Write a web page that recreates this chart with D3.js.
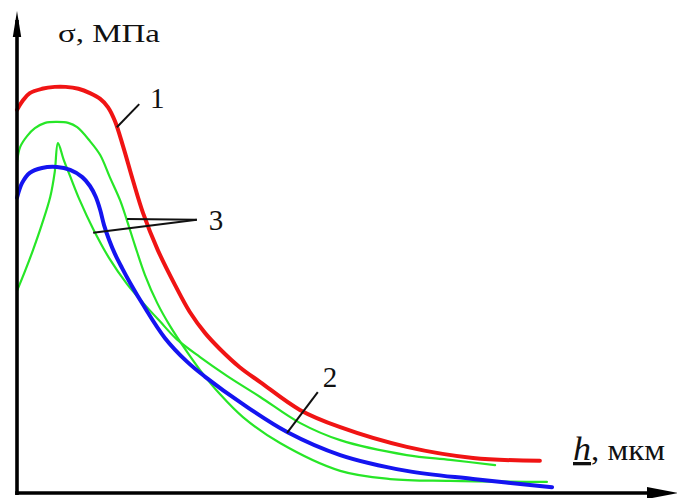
<!DOCTYPE html>
<html>
<head>
<meta charset="utf-8">
<script src="https://cdn.jsdelivr.net/npm/d3@7"></script>
<style>
  html, body { margin: 0; padding: 0; background: #fff; }
  svg { display: block; }
  text { font-family: "Liberation Serif", "Times New Roman", serif; fill: #111; }
</style>
</head>
<body>
<svg id="chart" width="677" height="498"></svg>
<script>
// ---- data (h, μm  vs  σ, MPa – relative units) ----
const hRed  = [0,1.0,2.0,3.9,5.9,7.6,9.6,11.4,13.0,14.2,15.3,16.6,18.1,19.7,22.0,24.7,27.0,29.4,31.7,34.8,38.0,44.2,50.5,60.9,71.25,81.7];
const sRed  = [79.6,81.7,83.1,84.0,84.4,84.4,84.0,83.1,81.9,80.2,77.3,71.9,65.0,58.1,50.4,43.1,37.5,33.1,29.8,26.0,22.9,17.1,13.5,9.4,7.1,6.5];

const hBlue = [0,0.8,2.0,3.9,6.25,8.3,10.2,11.4,12.3,13.0,13.6,14.4,15.3,16.4,17.7,19.7,23.1,26.6,29.4,35.3,42.2,50.5,60.9,71.25,83.6];
const sBlue = [61.3,64.4,66.5,67.5,67.7,67.1,65.6,63.75,61.5,58.75,55.6,52.5,49.6,46.7,43.5,39.0,32.1,27.1,24.0,18.3,12.5,7.7,4.4,2.7,1.0];

const hGreenA = [0,0.5,1.6,2.8,4.4,6.25,8.0,9.4,11.4,13.0,14.5,16.1,17.2,18.4,20.0,21.9,23.9,26.25,28.6,31.7,35.3,41.1,50.5,58.3,67.7,82.8];
const sGreenA = [68.75,71.9,74.2,75.8,76.9,77.1,76.9,76.0,73.1,70.2,65.6,60.8,56.5,51.5,45.2,39.4,34.6,29.8,25.4,20.4,15.6,10.2,4.4,2.7,2.3,2.1];

const hGreenB = [0,1.25,2.5,3.9,5.2,5.9,6.4,7.3,8.3,9.8,11.9,14.5,17.2,19.7,22.3,24.9,28.6,32.8,38.0,44.2,50.5,60.9,67.7,74.7];
const sGreenB = [41.9,46.0,50.4,55.8,61.5,66.7,72.7,69.2,65.8,60.8,54.8,48.5,43.3,39.4,35.6,31.9,28.1,24.2,19.8,14.4,10.8,7.7,6.7,5.6];

// curve labels and their leader lines (data units)
const labelText = ["1", "2", "3"];
const labelH    = [21.9, 48.9, 31.1];
const labelS    = [80.0, 21.9, 54.6];
const leaderFromH = [19.1, 47.0, 28.1, 28.1];
const leaderFromS = [80.8, 20.8, 56.7, 56.7];
const leaderToH   = [15.6, 42.2, 17.2, 11.9];
const leaderToS   = [76.0, 12.3, 56.9, 54.0];

const yLabel = "σ, МПа";
const xLabelVar = "h";
const xLabelUnit = ", мкм";

// ---- layout ----
const svg = d3.select("#chart");
const x = d3.scaleLinear().domain([0, 100]).range([17, 657]);
const y = d3.scaleLinear().domain([0, 100]).range([492, 12]);

const line = d3.line().x(d => x(d[0])).y(d => y(d[1])).curve(d3.curveCatmullRom.alpha(0.5));

const series = [
  { h: hGreenA, s: sGreenA, color: "#27e627", w: 2.2 },
  { h: hGreenB, s: sGreenB, color: "#27e627", w: 2.2 },
  { h: hBlue,   s: sBlue,   color: "#1414f0", w: 4 },
  { h: hRed,    s: sRed,    color: "#f01414", w: 4 }
];

series.forEach(sr => {
  svg.append("path")
    .datum(d3.zip(sr.h, sr.s))
    .attr("d", line)
    .attr("fill", "none")
    .attr("stroke", sr.color)
    .attr("stroke-width", sr.w)
    .attr("stroke-linecap", "round")
    .attr("stroke-linejoin", "round");
});

// ---- axes (lines with arrowheads, no ticks) ----
const x0 = x(0), y0 = y(0) + 1;
svg.append("line")
  .attr("x1", x0).attr("y1", y0 + 2).attr("x2", x0).attr("y2", 20)
  .attr("stroke", "#000").attr("stroke-width", 3.6);
svg.append("path")
  .attr("d", `M${x0},11 L${x0 - 4.2},37 L${x0 + 4.2},37 Z`)
  .attr("fill", "#000");

svg.append("line")
  .attr("x1", x0 - 1.8).attr("y1", y0).attr("x2", 665).attr("y2", y0)
  .attr("stroke", "#000").attr("stroke-width", 3.6);
svg.append("path")
  .attr("d", `M678,${y0} L647,${y0 - 6} L647,${y0 + 6} Z`)
  .attr("fill", "#000");

// ---- axis titles ----
svg.append("text")
  .attr("x", 58).attr("y", 42)
  .attr("font-size", 25)
  .attr("textLength", 102).attr("lengthAdjust", "spacingAndGlyphs")
  .text(yLabel);

const xt = svg.append("text")
  .attr("x", 573).attr("y", 460)
  .attr("font-size", 33)
  .attr("textLength", 92).attr("lengthAdjust", "spacingAndGlyphs");
xt.append("tspan").attr("font-style", "italic").attr("text-decoration", "underline").text(xLabelVar);
xt.append("tspan").attr("font-size", 30).text(xLabelUnit);

// ---- leader lines & curve numbers ----
svg.selectAll("line.leader")
  .data(d3.range(leaderFromH.length))
  .join("line")
  .attr("class", "leader")
  .attr("x1", i => x(leaderFromH[i])).attr("y1", i => y(leaderFromS[i]))
  .attr("x2", i => x(leaderToH[i])).attr("y2", i => y(leaderToS[i]))
  .attr("stroke", "#111").attr("stroke-width", 2);

svg.selectAll("text.num")
  .data(d3.range(labelText.length))
  .join("text")
  .attr("class", "num")
  .attr("x", i => x(labelH[i])).attr("y", i => y(labelS[i]))
  .attr("text-anchor", "middle")
  .attr("font-size", 29)
  .text(i => labelText[i]);
</script>
</body>
</html>
